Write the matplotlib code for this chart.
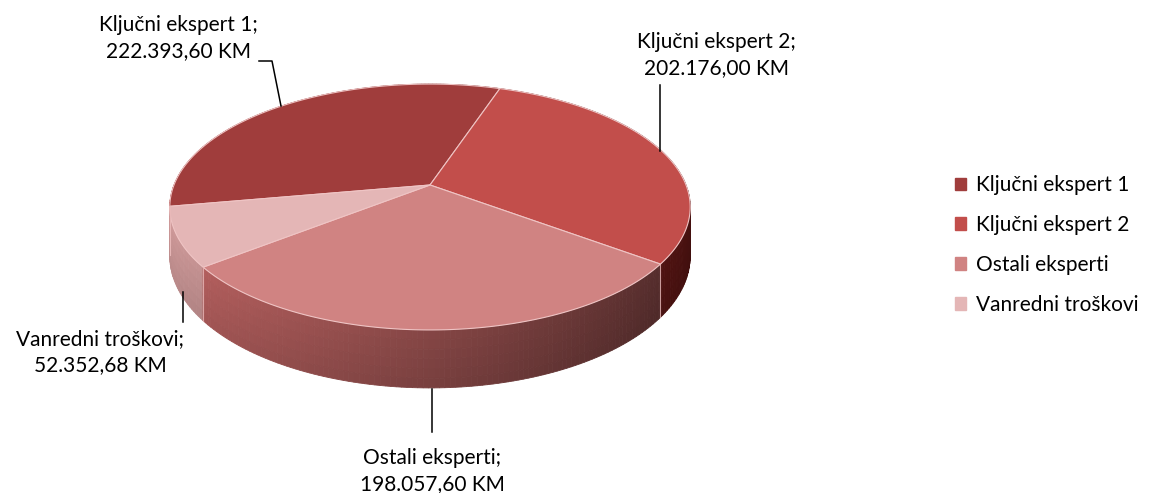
import numpy as np
import matplotlib
matplotlib.use("Agg")
import matplotlib.pyplot as plt
from matplotlib.patches import Polygon, Patch
from matplotlib import colors as mcolors
import colorsys

# data
categories = ["Ključni ekspert 1", "Ključni ekspert 2", "Ostali eksperti", "Vanredni troškovi"]
values = [222393.60, 202176.00, 198057.60, 52352.68]
slice_colors = ["#a03d3c", "#c24e4b", "#d08382", "#e4b6b6"]

# geometry of the fake 3d pie (pixels)
W, H_PX = 1162, 493
CX, CY = 430, 185      # apex of the pie
A, B = 256, 119        # semi axes of the top face
P = 0.179              # perspective factor
DEPTH = 47.6           # thickness of the pie
START = 170.0          # first slice starts here (deg, clockwise on screen)

plt.rcParams['font.family'] = ['Lato', 'DejaVu Sans']


def fmtKM(v):
    s = "{:,.2f}".format(v)
    s = s.replace(",", "X").replace(".", ",").replace("X", ".")
    return s + " KM"


def project(r, t_deg, z):
    t = np.radians(t_deg)
    s = np.sin(t)
    c = np.cos(t)
    k = 1.0 / (1.0 - P * r * s)
    x = CX + A * r * c * k
    y = CY + (B * r * s + DEPTH * z) * k
    return x, y


def sideColor(color, factor):
    # darker and a bit more saturated than the top face
    h, s, v = colorsys.rgb_to_hsv(*mcolors.to_rgb(color))
    s = min(1.0, s * 1.28)
    v = min(1.0, v * factor)
    return colorsys.hsv_to_rgb(h, s, v)


def main():
    fig = plt.figure(figsize=(W / 100, H_PX / 100), dpi=100)
    ax = fig.add_axes([0, 0, 1, 1])
    ax.set_xlim(0, W)
    ax.set_ylim(H_PX, 0)
    ax.axis("off")

    total = float(sum(values))
    spans = [360.0 * v / total for v in values]
    bounds = [START]
    for sp in spans:
        bounds.append(bounds[-1] + sp)

    # side walls, many small quads sorted back to front
    quads = []
    nz = 6
    for i in range(len(values)):
        t0, t1 = bounds[i], bounds[i + 1]
        ts = np.linspace(t0, t1, int(abs(t1 - t0)) + 2)
        for j in range(len(ts) - 1):
            tm = 0.5 * (ts[j] + ts[j + 1])
            base = 0.64 - 0.28 * np.cos(np.radians(tm))
            for zi in range(nz):
                za, zb = zi / nz, (zi + 1) / nz
                pts = [project(1, ts[j], za), project(1, ts[j + 1], za),
                       project(1, ts[j + 1], zb), project(1, ts[j], zb)]
                f = base * (1.0 - 0.10 * (za + zb) / 2)
                quads.append((np.sin(np.radians(tm)), pts, sideColor(slice_colors[i], f)))
    quads.sort(key=lambda q: q[0])
    for _, pts, col in quads:
        ax.add_patch(Polygon(pts, closed=True, facecolor=col, edgecolor=col, linewidth=0.6))

    # light seams on the visible side at slice boundaries
    for b in bounds:
        if np.sin(np.radians(b)) > 0.05:
            x0, y0 = project(1, b, 0)
            x1, y1 = project(1, b, 1)
            ax.plot([x0, x1], [y0, y1], color="#e8b8b8", linewidth=0.8, alpha=0.8)

    # top faces
    for i in range(len(values)):
        ts = np.linspace(bounds[i], bounds[i + 1], 200)
        pts = [(CX, CY)] + [project(1, t, 0) for t in ts]
        ax.add_patch(Polygon(pts, closed=True, facecolor=slice_colors[i],
                             edgecolor="#efc4c4", linewidth=0.8))

    # data labels with leader lines
    fs = 15
    ls = 1.4
    lbl = [c + ";\n" + fmtKM(v) for c, v in zip(categories, values)]
    ax.text(178, 38, lbl[0], ha="center", va="center", fontsize=fs, linespacing=ls)
    ax.plot([259, 272, 281], [61, 61, 106], color="black", linewidth=1.1)
    ax.text(716, 55, lbl[1], ha="center", va="center", fontsize=fs, linespacing=ls)
    ax.plot([660, 660], [85, 151], color="black", linewidth=1.1)
    ax.text(100, 352, lbl[3], ha="center", va="center", fontsize=fs, linespacing=ls)
    ax.plot([183, 183], [292, 322], color="black", linewidth=1.1)
    ax.text(432, 471, lbl[2], ha="center", va="center", fontsize=fs, linespacing=ls)
    ax.plot([432, 432], [389, 432], color="black", linewidth=1.1)

    handles = [Patch(facecolor=c, edgecolor=c) for c in slice_colors]
    ax.legend(handles, categories, loc="center left", bbox_to_anchor=(936 / W, 1 - 245 / H_PX),
              frameon=False, fontsize=fs, handlelength=0.55, handleheight=0.55,
              handletextpad=0.45, labelspacing=0.95)

    fig.savefig("out.png", dpi=100)


if __name__ == "__main__":
    main()
